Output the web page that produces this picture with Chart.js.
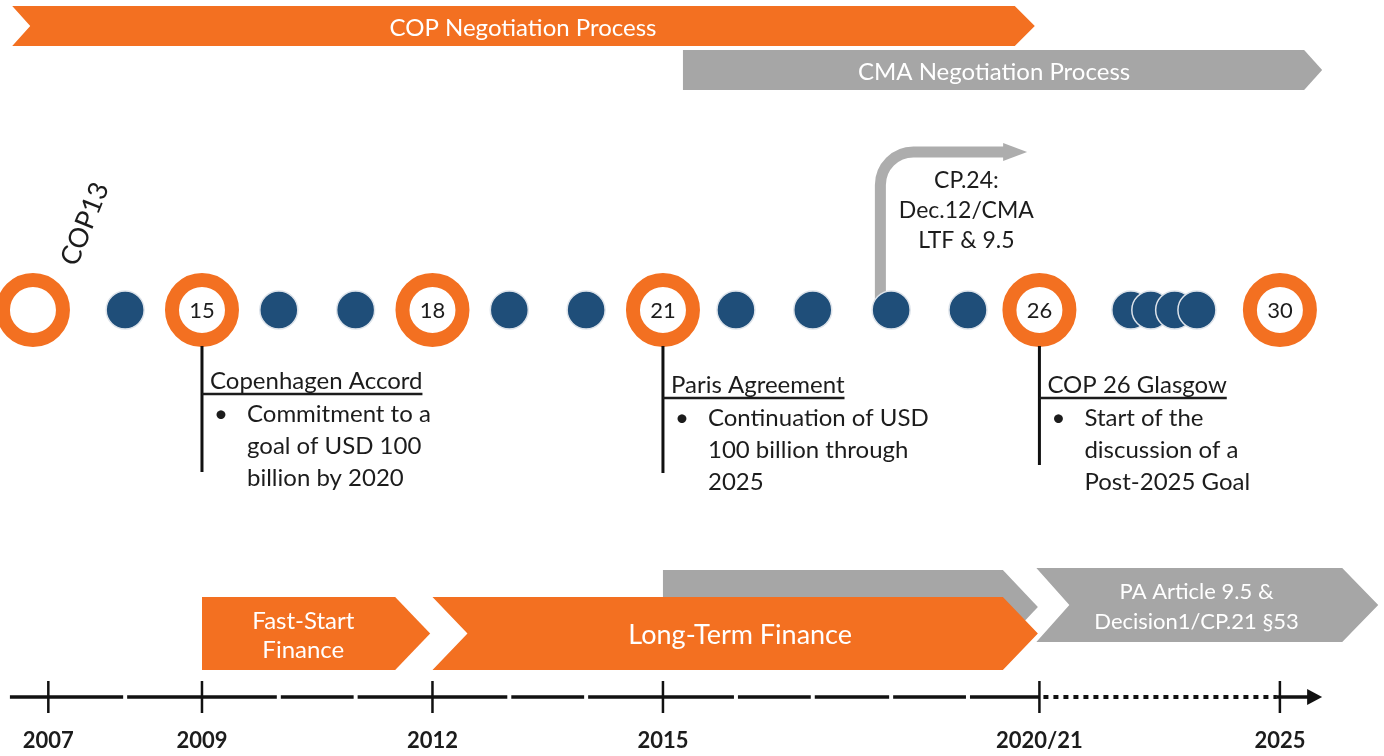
<!DOCTYPE html>
<html>
<head>
<meta charset="utf-8">
<script src="https://cdn.jsdelivr.net/npm/chart.js@4.4.1/dist/chart.umd.min.js"></script>
<style>
  html, body { margin: 0; padding: 0; background: #fff; }
  #wrap { width: 1384px; height: 756px; }
</style>
</head>
<body>
<div id="wrap"><canvas id="c" width="1384" height="756"></canvas></div>
<script>
// x values are timeline slots: one slot per COP year, 2007 = 0
const majorLabels = ['', '15', '18', '21', '26', '30'];
const majorPos = [-0.2, 2, 5, 8, 12.9, 16.03];
const minorPos = [1, 3, 4, 6, 7, 8.95, 9.95, 10.97, 11.97, 14.09, 14.35, 14.66, 14.95];

const yearLabels = ['2007', '2009', '2012', '2015', '2020/21', '2025'];
const yearPos = [0, 2, 5, 8, 12.9, 16.03];
const axisStart = -0.5;
const axisSolidEnd = 12.9;
const axisEnd = 16.58;

const bandNames = [
  ['COP Negotiation Process'],
  ['CMA Negotiation Process'],
  ['Fast-Start', 'Finance'],
  [''],
  ['Long-Term Finance'],
  ['PA Article 9.5 &', 'Decision1/CP.21 §53']
];
const bandFrom = [-0.47, 8.26, 2, 8, 5.0, 12.86];
const bandTo = [12.84, 16.58, 4.97, 12.88, 12.88, 17.31];

const noteSlots = [2, 8, 12.9];
const noteTitles = ['Copenhagen Accord', 'Paris Agreement', 'COP 26 Glasgow'];
const noteLines = [
  ['Commitment to a', 'goal of USD 100', 'billion by 2020'],
  ['Continuation of USD', '100 billion through', '2025'],
  ['Start of the', 'discussion of a', 'Post-2025 Goal']
];

const cpLines = ['CP.24:', 'Dec.12/CMA', 'LTF & 9.5'];
const cpArrowFrom = 10.83;
const cpArrowTo = 12.74;

// ---- styles / layout (pixels from the top) ----
const ORANGE = '#F37021';
const GRAY = '#A6A6A6';
const NAVY = '#1F4E79';
const INK = '#1c1c1c';
const FONT = "Lato, 'Open Sans', sans-serif";
const ROW_COP = 310;
const ROW_AXIS = 697;

const BAND_STYLE = [
  { color: ORANGE, top: 6, bottom: 46, notch: 18, tip: 20, size: 24, lh: 0, dx: 0 },
  { color: GRAY, top: 50, bottom: 90, notch: 0, tip: 18, size: 24, lh: 0, dx: -4 },
  { color: ORANGE, top: 597, bottom: 670, notch: 0, tip: 35, size: 24, lh: 29, dx: -4 },
  { color: GRAY, top: 570, bottom: 644, notch: 0, tip: 35, size: 20, lh: 0, dx: 0 },
  { color: ORANGE, top: 597, bottom: 670, notch: 35, tip: 35, size: 27, lh: 0, dx: 5 },
  { color: GRAY, top: 568, bottom: 642, notch: 33, tip: 36, size: 22, lh: 30, dx: -10 }
];
const NOTE_TITLE_Y = [381, 385, 385];
const NOTE_LINE_END = [472, 473, 465];

const diagram = {
  id: 'diagram',
  beforeDatasetsDraw(chart) {
    const { ctx, scales: { x, y } } = chart;
    ctx.save();

    // chevron bands
    bandNames.forEach((lines, i) => {
      const s = BAND_STYLE[i];
      const xl = x.getPixelForValue(bandFrom[i]);
      const xr = x.getPixelForValue(bandTo[i]);
      const yt = y.getPixelForValue(s.top);
      const yb = y.getPixelForValue(s.bottom);
      const ym = (yt + yb) / 2;
      ctx.beginPath();
      ctx.moveTo(xl, yt);
      ctx.lineTo(xr - s.tip, yt);
      ctx.lineTo(xr, ym);
      ctx.lineTo(xr - s.tip, yb);
      ctx.lineTo(xl, yb);
      ctx.lineTo(xl + s.notch, ym);
      ctx.closePath();
      ctx.fillStyle = s.color;
      ctx.fill();

      ctx.fillStyle = '#fff';
      ctx.font = s.size + 'px ' + FONT;
      ctx.textAlign = 'center';
      ctx.textBaseline = 'middle';
      const cx = (xl + s.notch / 2 + xr - s.tip / 2) / 2 + s.dx;
      lines.forEach((t, k) => {
        ctx.fillText(t, cx, ym + 2 + (k - (lines.length - 1) / 2) * s.lh);
      });
    });

    // curved arrow for CP.24
    const ax = x.getPixelForValue(cpArrowFrom);
    const tipX = x.getPixelForValue(cpArrowTo);
    const ay = y.getPixelForValue(152);
    const R = 33;
    ctx.strokeStyle = '#ADADAD';
    ctx.fillStyle = '#ADADAD';
    ctx.lineWidth = 11;
    ctx.beginPath();
    ctx.moveTo(ax, y.getPixelForValue(300));
    ctx.lineTo(ax, ay + R);
    ctx.arcTo(ax, ay, ax + R, ay, R);
    ctx.lineTo(tipX - 20, ay);
    ctx.stroke();
    ctx.beginPath();
    ctx.moveTo(tipX - 24, ay - 9);
    ctx.lineTo(tipX, ay);
    ctx.lineTo(tipX - 24, ay + 9);
    ctx.closePath();
    ctx.fill();

    // timeline axis: dashed part broken at each minor year
    const breaks = [axisStart, ...minorPos.filter(p => p < axisSolidEnd), axisSolidEnd];
    const yA = y.getPixelForValue(ROW_AXIS);
    ctx.strokeStyle = '#111';
    ctx.lineWidth = 3.5;
    for (let i = 0; i < breaks.length - 1; i++) {
      const a = x.getPixelForValue(breaks[i]) + (i === 0 ? 0 : 2);
      const b = x.getPixelForValue(breaks[i + 1]) - (i === breaks.length - 2 ? 0 : 2);
      ctx.beginPath();
      ctx.moveTo(a, yA);
      ctx.lineTo(b, yA);
      ctx.stroke();
    }
    // dotted part up to 2025
    const x25 = x.getPixelForValue(yearPos[yearPos.length - 1]);
    const xEnd = x.getPixelForValue(axisEnd);
    ctx.setLineDash([5, 5]);
    ctx.lineWidth = 4;
    ctx.beginPath();
    ctx.moveTo(x.getPixelForValue(axisSolidEnd) + 4, yA);
    ctx.lineTo(x25 - 3, yA);
    ctx.stroke();
    ctx.setLineDash([]);
    ctx.lineWidth = 3.5;
    ctx.beginPath();
    ctx.moveTo(x25 - 3, yA);
    ctx.lineTo(xEnd - 12, yA);
    ctx.stroke();
    ctx.fillStyle = '#111';
    ctx.beginPath();
    ctx.moveTo(xEnd - 15, yA - 8);
    ctx.lineTo(xEnd, yA);
    ctx.lineTo(xEnd - 15, yA + 8);
    ctx.closePath();
    ctx.fill();

    ctx.restore();
  },
  afterDatasetsDraw(chart) {
    const { ctx, scales: { x, y } } = chart;
    ctx.save();
    ctx.textBaseline = 'middle';

    // numbers inside the rings
    ctx.fillStyle = INK;
    ctx.font = '22px ' + FONT;
    ctx.textAlign = 'center';
    majorLabels.forEach((t, i) => {
      if (t) ctx.fillText(t, x.getPixelForValue(majorPos[i]), y.getPixelForValue(ROW_COP) + 1);
    });

    // rotated COP13
    ctx.save();
    ctx.translate(x.getPixelForValue(majorPos[0]) + 52, y.getPixelForValue(224));
    ctx.rotate(-68 * Math.PI / 180);
    ctx.font = '27px ' + FONT;
    ctx.fillText('COP13', 0, 0);
    ctx.restore();

    // CP.24 text
    ctx.font = '23px ' + FONT;
    cpLines.forEach((t, k) => {
      ctx.fillText(t, x.getPixelForValue(cpArrowFrom) + 86, y.getPixelForValue(181 + k * 30));
    });

    // notes under the COP rings
    ctx.textAlign = 'left';
    noteTitles.forEach((title, i) => {
      const x0 = x.getPixelForValue(noteSlots[i]);
      const ty = y.getPixelForValue(NOTE_TITLE_Y[i]);
      ctx.font = '24px ' + FONT;
      ctx.fillText(title, x0 + 8, ty);
      const w = ctx.measureText(title).width;
      ctx.strokeStyle = INK;
      ctx.lineWidth = 2.5;
      ctx.beginPath();
      ctx.moveTo(x0, ty + 13);
      ctx.lineTo(x0 + 8 + w, ty + 13);
      ctx.stroke();
      noteLines[i].forEach((t, k) => {
        const ly = ty + 33 + k * 32;
        if (k === 0) ctx.fillText('\u2022', x0 + 12, ly);
        ctx.fillText(t, x0 + 45, ly);
      });
    });

    // year labels under the axis
    ctx.textAlign = 'center';
    ctx.font = 'bold 22px ' + FONT;
    yearLabels.forEach((t, i) => {
      ctx.fillText(t, x.getPixelForValue(yearPos[i]), y.getPixelForValue(741));
    });
    ctx.restore();
  }
};

const noteStems = noteSlots.map((s, i) => ({
  type: 'line',
  data: [{ x: s, y: 346 }, { x: s, y: NOTE_LINE_END[i] }],
  borderColor: '#111', borderWidth: 3, pointRadius: 0
}));
const yearTicks = yearPos.map(s => ({
  type: 'line',
  data: [{ x: s, y: 681 }, { x: s, y: 713 }],
  borderColor: '#111', borderWidth: 2.5, pointRadius: 0
}));

new Chart(document.getElementById('c'), {
  type: 'scatter',
  data: {
    datasets: [
      ...noteStems,
      ...yearTicks,
      {
        label: 'COP years',
        data: minorPos.map(p => ({ x: p, y: ROW_COP })),
        pointRadius: 19,
        backgroundColor: NAVY,
        borderColor: '#dde3ea',
        borderWidth: 1.5
      },
      {
        label: 'Key COPs',
        data: majorPos.map(p => ({ x: p, y: ROW_COP })),
        pointRadius: 30,
        backgroundColor: '#fff',
        borderColor: ORANGE,
        borderWidth: 14
      }
    ]
  },
  options: {
    responsive: false,
    animation: false,
    devicePixelRatio: 1,
    layout: { padding: 0, autoPadding: false },
    plugins: { legend: { display: false }, tooltip: { enabled: false } },
    scales: {
      x: { type: 'linear', min: -0.629, max: 17.385, display: false },
      y: { type: 'linear', min: 0, max: 756, reverse: true, display: false }
    }
  },
  plugins: [diagram]
});
</script>
</body>
</html>
